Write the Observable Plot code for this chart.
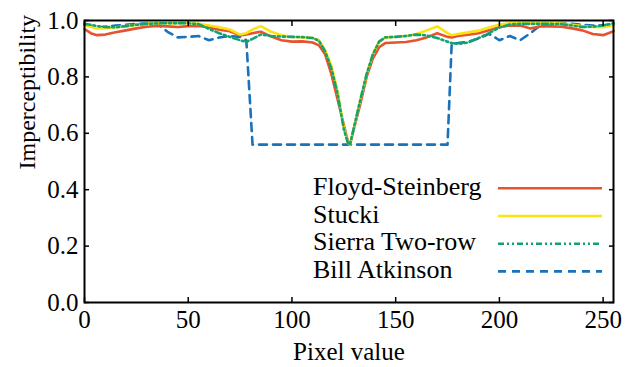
<!DOCTYPE html>
<html><head><meta charset="utf-8">
<script src="https://cdn.jsdelivr.net/npm/d3@7"></script>
<script src="https://cdn.jsdelivr.net/npm/@observablehq/plot@0.6"></script>
<style>
body{margin:0;background:#fff}
</style>
</head><body><div id="chart"></div>
<script>
const pixel = [0,3,6,10,15,20,25,30,35,40,45,50,55,60,65,70,75,78,81,85,90,95,100,105,110,113,116,119,122,125,127,128,130,133,136,139,142,145,150,155,160,165,170,175,177,180,185,190,195,200,205,210,215,220,225,230,235,240,245,250,255];

const floydSteinberg = [0.970,0.955,0.948,0.950,0.958,0.965,0.972,0.978,0.981,0.979,0.977,0.980,0.981,0.976,0.967,0.962,0.948,0.950,0.955,0.960,0.943,0.930,0.925,0.926,0.922,0.912,0.880,0.810,0.720,0.630,0.570,0.560,0.620,0.705,0.800,0.865,0.905,0.920,0.922,0.924,0.930,0.940,0.955,0.942,0.940,0.945,0.950,0.955,0.965,0.977,0.982,0.982,0.972,0.979,0.979,0.978,0.972,0.965,0.952,0.948,0.962];

const stucki = [0.982,0.978,0.972,0.972,0.976,0.980,0.984,0.988,0.990,0.990,0.990,0.990,0.988,0.982,0.976,0.968,0.950,0.955,0.968,0.980,0.960,0.948,0.942,0.941,0.938,0.930,0.895,0.840,0.750,0.620,0.565,0.560,0.625,0.720,0.810,0.880,0.925,0.940,0.942,0.945,0.952,0.965,0.979,0.955,0.948,0.952,0.958,0.964,0.975,0.986,0.990,0.990,0.990,0.990,0.990,0.989,0.985,0.980,0.977,0.976,0.983];

const sierraTwoRow = [0.988,0.985,0.980,0.977,0.976,0.980,0.985,0.988,0.990,0.990,0.990,0.990,0.987,0.970,0.955,0.942,0.930,0.924,0.935,0.950,0.945,0.943,0.942,0.941,0.938,0.928,0.890,0.830,0.740,0.615,0.565,0.560,0.625,0.720,0.810,0.880,0.925,0.940,0.942,0.945,0.950,0.947,0.938,0.925,0.920,0.917,0.922,0.938,0.955,0.975,0.986,0.988,0.988,0.988,0.988,0.987,0.982,0.977,0.978,0.982,0.990];

const billAtkinson = [0.985,0.980,0.975,0.978,0.982,0.985,0.988,0.990,0.990,0.960,0.940,0.942,0.945,0.930,0.940,0.945,0.942,0.930,0.560,0.560,0.560,0.560,0.560,0.560,0.560,0.560,0.560,0.560,0.560,0.560,0.560,0.560,0.560,0.560,0.560,0.560,0.560,0.560,0.560,0.560,0.560,0.560,0.560,0.560,0.918,0.920,0.925,0.936,0.953,0.930,0.945,0.930,0.955,0.985,0.990,0.990,0.988,0.985,0.982,0.983,0.988];

const seriesNames = ["Floyd-Steinberg","Stucki","Sierra Two-row","Bill Atkinson"];
const seriesValues = [floydSteinberg, stucki, sierraTwoRow, billAtkinson];
const xTicks = [0,50,100,150,200,250];
const yTicks = [0,0.2,0.4,0.6,0.8,1.0];
const xLabel = "Pixel value";
const yLabel = "Imperceptibility";

// styles (kept separate from data)
const seriesStyle = {
  "Floyd-Steinberg": {stroke:"#e6532e", dash:null},
  "Stucki": {stroke:"#fbe30f", dash:null},
  "Sierra Two-row": {stroke:"#13a36f", dash:"6,3,2,3,2,3"},
  "Bill Atkinson": {stroke:"#1a72bb", dash:"8,6"}
};
const drawOrder = ["Bill Atkinson","Floyd-Steinberg","Stucki","Sierra Two-row"];

const rows = [];
seriesNames.forEach((name, i) => {
  pixel.forEach((p, j) => rows.push({series:name, x:p, y:seriesValues[i][j]}));
});

const FONT = "Liberation Serif";
const FS = 25;
const chart = Plot.plot({
  width: 632, height: 367,
  marginLeft: 84, marginRight: 19, marginTop: 20, marginBottom: 65,
  style: {fontFamily: FONT, fontSize: FS + "px", color:"#000", background:"#fff", overflow:"visible"},
  x: {domain:[0,255]},
  y: {domain:[0,1]},
  marks: [
    ...drawOrder.map(name => Plot.line(rows.filter(d => d.series === name), {
      x:"x", y:"y", stroke: seriesStyle[name].stroke, strokeWidth: 2.6,
      strokeDasharray: seriesStyle[name].dash, strokeLinejoin:"round"
    })),
    Plot.axisX({ticks:xTicks, tickSize:-5, tickPadding:13, strokeWidth:1.5, label:null, fontSize:FS}),
    Plot.axisX({anchor:"top", ticks:xTicks, tickSize:-5, tickFormat:() => "", strokeWidth:1.5, label:null}),
    Plot.axisY({ticks:yTicks, tickSize:-5, tickPadding:11, strokeWidth:1.5, tickFormat:d3.format(".1f"), label:null, fontSize:FS}),
    Plot.axisY({anchor:"right", ticks:yTicks, tickSize:-5, tickFormat:() => "", strokeWidth:1.5, label:null}),
    Plot.text([xLabel], {frameAnchor:"bottom", text:d => d, dy:49, lineAnchor:"middle", fontSize:FS}),
    Plot.text([yLabel], {frameAnchor:"left", text:d => d, dx:-57, dy:8, rotate:-90, lineAnchor:"middle", fontSize:24}),
    Plot.frame({stroke:"#000", strokeWidth:2})
  ]
});
document.getElementById("chart").appendChild(chart);

// legend inside the plot area
const svg = d3.select(chart);
const leg = svg.append("g").attr("text-anchor", "start");
seriesNames.forEach((name, i) => {
  const base = 195 + i * 27.7;
  leg.append("text").attr("x", 313).attr("y", base).attr("fill", "#000")
    .style("font-size", "26px").text(name);
  leg.append("line").attr("x1", 498).attr("x2", 602).attr("y1", base - 6.7).attr("y2", base - 6.7)
    .attr("stroke", seriesStyle[name].stroke).attr("stroke-width", 2.6)
    .attr("stroke-dasharray", seriesStyle[name].dash);
});
svg.selectAll("text").style("font-family", "'Liberation Serif'");
</script>
</body></html>
